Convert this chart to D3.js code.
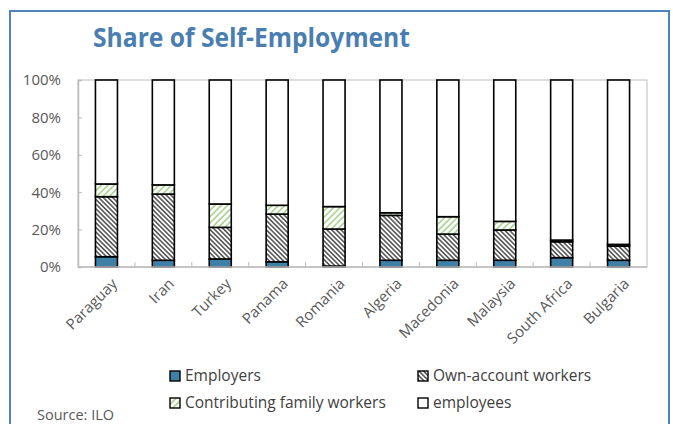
<!DOCTYPE html>
<html>
<head>
<meta charset="utf-8">
<script src="https://cdn.jsdelivr.net/npm/d3@7"></script>
<style>
  body { margin: 0; background: #fff; }
  text { font-family: "Open Sans", "DejaVu Sans", sans-serif; }
</style>
</head>
<body>
<div id="plot"></div>
<script>
// Share of self-employment, per country (percent of total employment)
var countries = ["Paraguay", "Iran", "Turkey", "Panama", "Romania", "Algeria", "Macedonia", "Malaysia", "South Africa", "Bulgaria"];
var employers = [5.5, 3.6, 4.3, 2.8, 0.5, 3.6, 3.6, 3.6, 5.0, 3.6];
var ownAccount = [32.1, 35.4, 16.9, 25.5, 19.8, 24.0, 14.0, 16.2, 8.5, 7.6];
var familyWorkers = [6.8, 4.9, 12.5, 4.7, 12.0, 1.4, 9.3, 4.6, 0.9, 0.9];
var employees = [55.6, 56.1, 66.3, 67.0, 67.7, 71.0, 73.1, 75.6, 85.6, 87.9];
var yTicks = [0, 20, 40, 60, 80, 100];
var seriesNames = ["Employers", "Own-account workers", "Contributing family workers", "employees"];

var W = 673, H = 424;
const margin = {top: 80, right: 26, bottom: 157, left: 78};
var chartWidth = W - margin.left - margin.right;
var chartHeight = H - margin.top - margin.bottom;

var svg = d3.select("#plot").append("svg")
     .attr("width", W)
     .attr("height", H);

// hatch patterns
var defs = svg.append("defs");
var p1 = defs.append("pattern")
     .attr("id", "hatchOwn")
     .attr("patternUnits", "userSpaceOnUse")
     .attr("width", 3.3).attr("height", 6)
     .attr("patternTransform", "rotate(-45)");
p1.append("rect").attr("width", 3.3).attr("height", 6).attr("fill", "#fff");
p1.append("line").attr("x1", 0.8).attr("x2", 0.8).attr("y1", 0).attr("y2", 6)
     .attr("stroke", "#4d4d4d").attr("stroke-width", 1.5);

var p2 = defs.append("pattern")
     .attr("id", "hatchFam")
     .attr("patternUnits", "userSpaceOnUse")
     .attr("width", 4.5).attr("height", 6)
     .attr("patternTransform", "rotate(45)");
p2.append("rect").attr("width", 4.5).attr("height", 6).attr("fill", "#fff");
p2.append("line").attr("x1", 1).attr("x2", 1).attr("y1", 0).attr("y2", 6)
     .attr("stroke", "#a9d18e").attr("stroke-width", 1.6);

var fills = ["#3f80a8", "url(#hatchOwn)", "url(#hatchFam)", "#fff"];

// outer frame
svg.append("rect")
     .attr("x", 10).attr("y", 11)
     .attr("width", 659).attr("height", 430)
     .attr("fill", "none")
     .attr("stroke", "#4f81bd")
     .attr("stroke-width", 2);

// title
svg.append("text")
     .attr("x", 93).attr("y", 47)
     .attr("textLength", 317)
     .attr("lengthAdjust", "spacingAndGlyphs")
     .style("font-size", "27px")
     .style("font-weight", "bold")
     .style("fill", "#4a7eb0")
     .text("Share of Self-Employment");

var g = svg.append("g")
     .attr("transform", "translate(" + margin.left + "," + margin.top + ")");

var x = d3.scaleBand().domain(countries).range([0, chartWidth]).paddingInner(0.613).paddingOuter(0.3065);
var xb = d3.scaleBand().domain(countries).range([0, chartWidth]);
var y = d3.scaleLinear().domain([0, 100]).range([chartHeight, 0]);

// plot area border
g.append("rect")
     .attr("x", 0).attr("y", 0)
     .attr("width", chartWidth).attr("height", chartHeight)
     .attr("fill", "none")
     .attr("stroke", "#c8c8c8")
     .attr("stroke-width", 1.2);

// stacked data
var table = countries.map(function(c, i) {
     return {country: c, e: employers[i], o: ownAccount[i], f: familyWorkers[i], w: employees[i]};
});
var stack = d3.stack().keys(["e", "o", "f", "w"]);
var layers = stack(table);

g.selectAll(".layer")
     .data(layers)
     .enter()
     .append("g")
     .attr("class", "layer")
     .attr("fill", function(d, i) { return fills[i]; })
     .selectAll("rect")
     .data(function(d) { return d; })
     .enter()
     .append("rect")
     .attr("x", function(d) { return x(d.data.country); })
     .attr("y", function(d) { return y(d[1]); })
     .attr("width", x.bandwidth())
     .attr("height", function(d) { return y(d[0]) - y(d[1]); })
     .attr("stroke", "#000")
     .attr("stroke-width", 1.6);

// axes
var yAxis = g.append("g")
     .call(d3.axisLeft(y).tickValues(yTicks).tickSize(-4).tickPadding(17).tickFormat(function(d) { return d + "%"; }));
yAxis.select(".domain").attr("stroke", "#bdbdbd").attr("stroke-width", 1.5);
yAxis.selectAll(".tick line").attr("stroke", "#bdbdbd");
yAxis.selectAll("text")
     .style("font-size", "15px")
     .style("fill", "#595959")
     .style("font-family", "'Open Sans', sans-serif");

var xAxis = g.append("g")
     .attr("transform", "translate(0," + chartHeight + ")");
xAxis.append("line")
     .attr("x1", 0).attr("x2", chartWidth)
     .attr("stroke", "#bdbdbd").attr("stroke-width", 1.5);
xAxis.selectAll(".xtick")
     .data(countries.slice(1))
     .enter()
     .append("line")
     .attr("x1", function(d) { return xb(d); })
     .attr("x2", function(d) { return xb(d); })
     .attr("y1", 0).attr("y2", -5)
     .attr("stroke", "#bdbdbd");
xAxis.selectAll(".xlabel")
     .data(countries)
     .enter()
     .append("text")
     .attr("text-anchor", "end")
     .attr("transform", function(d) {
          return "translate(" + (xb(d) + xb.bandwidth() / 2 + 8) + ",14) rotate(-45)";
     })
     .attr("dy", "0.35em")
     .style("font-size", "15px")
     .style("fill", "#595959")
     .text(function(d) { return d; });

// legend
var legendPos = [[170, 376], [418, 376], [170, 403], [418, 403]];
var legend = svg.selectAll(".legend")
     .data(seriesNames)
     .enter()
     .append("g")
     .attr("class", "legend")
     .attr("transform", function(d, i) { return "translate(" + legendPos[i][0] + "," + legendPos[i][1] + ")"; });
legend.append("rect")
     .attr("x", 0).attr("y", -5)
     .attr("width", 10).attr("height", 10)
     .attr("fill", function(d, i) { return fills[i]; })
     .attr("stroke", "#000")
     .attr("stroke-width", 1.4);
legend.append("text")
     .attr("x", 15).attr("dy", "0.35em")
     .style("font-size", "15.5px")
     .style("fill", "#404040")
     .text(function(d) { return d; });

// source
svg.append("text")
     .attr("x", 37).attr("y", 420)
     .style("font-size", "14.5px")
     .style("fill", "#595959")
     .text("Source: ILO");
</script>
</body>
</html>
